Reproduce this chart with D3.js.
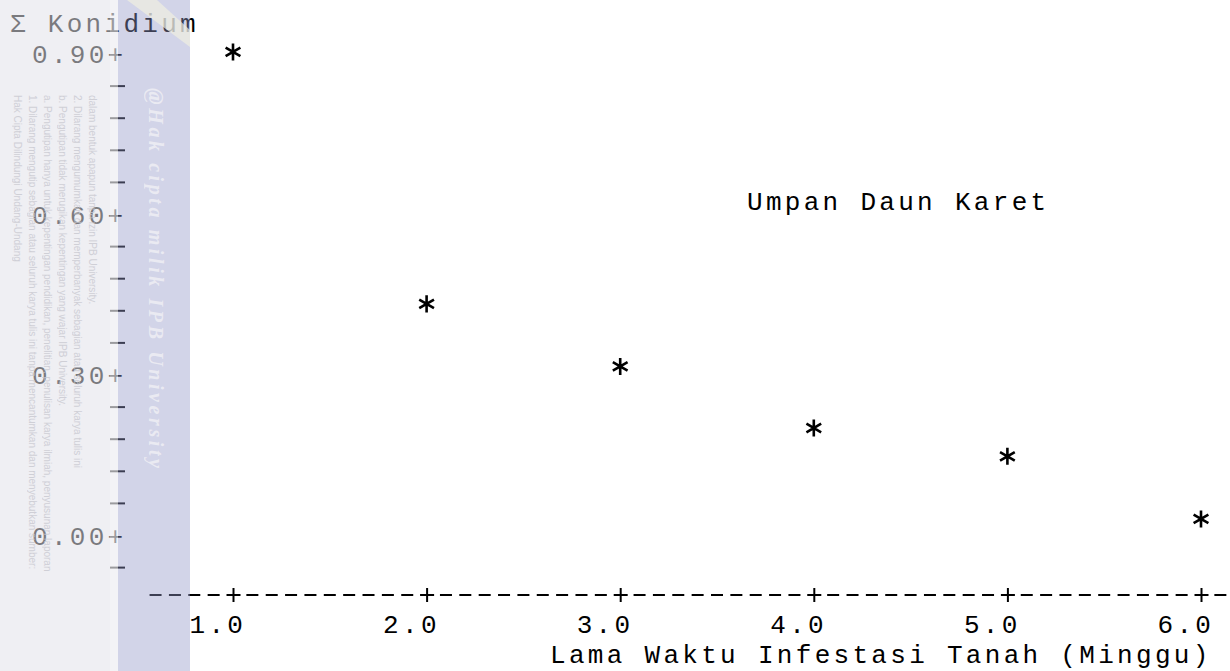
<!DOCTYPE html>
<html>
<head>
<meta charset="utf-8">
<script src="https://cdn.jsdelivr.net/npm/d3@7"></script>
<style>
  html, body { margin: 0; padding: 0; background: #fff; }
  svg { display: block; }
</style>
</head>
<body>
<div id="chart"></div>
<script>
// ---- data ----
const weeks = [1, 2, 3, 4, 5, 6];
const konidium = [0.903, 0.432, 0.315, 0.200, 0.147, 0.030];
const yMajorTicks = [0.00, 0.30, 0.60, 0.90];
const yMinorTicks = [-0.06, 0.06, 0.12, 0.18, 0.24, 0.36, 0.42, 0.48, 0.54, 0.66, 0.72, 0.78, 0.84];
const xTickLabels = ["1.0", "2.0", "3.0", "4.0", "5.0", "6.0"];
const yTitle = "\u03A3 Konidium";
const xTitle = "Lama Waktu Infestasi Tanah (Minggu)";
const seriesLabel = "Umpan Daun Karet";
const watermarkMain = "@Hak cipta milik IPB University";
const watermarkLines = [
  "Hak Cipta Dilindungi Undang-Undang",
  "1. Dilarang mengutip sebagian atau seluruh karya tulis ini tanpa mencantumkan dan menyebutkan sumber:",
  "a. Pengutipan hanya untuk kepentingan pendidikan, penelitian, penulisan karya ilmiah, penyusunan laporan",
  "b. Pengutipan tidak merugikan kepentingan yang wajar IPB University.",
  "2. Dilarang mengumumkan dan memperbanyak sebagian atau seluruh karya tulis ini",
  "dalam bentuk apapun tanpa izin IPB University."
];

// ---- setup ----
const W = 1230, H = 671;
const FONT = "'Liberation Mono', 'DejaVu Sans Mono', monospace";
const FS = 26, LS = 3.3;

const svg = d3.select("#chart").append("svg")
  .attr("width", W).attr("height", H)
  .attr("font-family", FONT);

const x = d3.scaleLinear().domain([1, 6]).range([233, 1201]);
const y = d3.scaleLinear().domain([0, 0.9]).range([535, 53.5]);

// ---- y axis: major labels "0.90+" ----
const yAxisX = 116;
const yMajor = svg.append("g").attr("transform", `translate(${yAxisX},0)`)
  .call(d3.axisLeft(y).tickValues(yMajorTicks).tickSize(0)
    .tickFormat(d => d3.format(".2f")(d) + "+"));
yMajor.select(".domain").remove();
yMajor.selectAll("text")
  .attr("text-anchor", "start")
  .attr("x", 32 - yAxisX)
  .attr("dy", null)
  .attr("y", 9)
  .attr("font-family", FONT)
  .attr("font-size", FS)
  .attr("letter-spacing", LS)
  .attr("fill", "#000");

// minor ticks "-"
const yMinor = svg.append("g").attr("transform", "translate(125,0)")
  .call(d3.axisLeft(y).tickValues(yMinorTicks).tickSize(15).tickFormat(""));
yMinor.select(".domain").remove();
yMinor.selectAll("line").attr("stroke", "#000").attr("stroke-width", 2);

// ---- x axis: dashed typewriter line with "+" ticks ----
const axisY = 595;
const pitch = (x(2) - x(1)) / 10;
svg.append("line")
  .attr("x1", x(1) - 4 * pitch - 6).attr("x2", W)
  .attr("y1", axisY).attr("y2", axisY)
  .attr("stroke", "#000").attr("stroke-width", 2)
  .attr("stroke-dasharray", `12,${(pitch - 12).toFixed(2)}`);

const xAxis = svg.append("g").attr("transform", `translate(0,${axisY})`)
  .call(d3.axisBottom(x).tickValues(weeks).tickSize(0)
    .tickFormat((d, i) => xTickLabels[i]));
xAxis.select(".domain").remove();
xAxis.selectAll(".tick").append("line")
  .attr("x1", 0).attr("x2", 0).attr("y1", -7).attr("y2", 7)
  .attr("stroke", "#000").attr("stroke-width", 2);
xAxis.selectAll(".tick").append("line")
  .attr("x1", -7).attr("x2", 7).attr("y1", 0).attr("y2", 0)
  .attr("stroke", "#000").attr("stroke-width", 2);
xAxis.selectAll("text")
  .attr("text-anchor", "start")
  .attr("x", -44)
  .attr("dy", null)
  .attr("y", 38)
  .attr("font-family", FONT)
  .attr("font-size", FS)
  .attr("letter-spacing", LS)
  .attr("fill", "#000");

// ---- titles ----
function typeText(str, tx, ty) {
  return svg.append("text").attr("x", tx).attr("y", ty)
    .attr("font-size", FS).attr("letter-spacing", LS)
    .attr("fill", "#000").text(str);
}
typeText(yTitle, 10, 32);
typeText(seriesLabel, 747, 210);
typeText(xTitle, 550, 663);

// ---- asterisk points ----
const asterisk = {
  draw(ctx, size) {
    const r = Math.sqrt(size) / 2;
    [90, 30, -30].forEach(a => {
      const t = a * Math.PI / 180;
      ctx.moveTo(-r * Math.cos(t), -r * Math.sin(t));
      ctx.lineTo(r * Math.cos(t), r * Math.sin(t));
    });
  }
};
svg.append("g").selectAll("path")
  .data(weeks.map((w, i) => ({ w, v: konidium[i] })))
  .join("path")
  .attr("transform", d => `translate(${x(d.w)},${y(d.v)})`)
  .attr("d", d3.symbol().type(asterisk).size(290))
  .attr("fill", "none")
  .attr("stroke", "#000")
  .attr("stroke-width", 2.6);

// ---- scanned watermark overlay ----
const wm = svg.append("g");
wm.append("rect").attr("x", 0).attr("y", 0).attr("width", 118).attr("height", H)
  .attr("fill", "rgb(226,226,233)").attr("opacity", 0.54);
wm.append("rect").attr("x", 110).attr("y", 0).attr("width", 8).attr("height", H)
  .attr("fill", "#fff").attr("opacity", 0.25);
wm.append("rect").attr("x", 118).attr("y", 0).attr("width", 72).attr("height", H)
  .attr("fill", "rgb(146,151,200)").attr("opacity", 0.41);
wm.append("polygon")
  .attr("points", "127,0 157,0 190,30 190,47")
  .attr("fill", "rgb(240,240,225)").attr("opacity", 0.7);

watermarkLines.forEach((t, i) => {
  wm.append("text")
    .attr("transform", `translate(${14 + i * 15},95) rotate(90)`)
    .attr("font-family", "'Liberation Sans', sans-serif")
    .attr("font-size", 10)
    .attr("fill", "#c8c8d0")
    .attr("opacity", 0.8)
    .text(t);
});

wm.append("text")
  .attr("transform", "translate(149,88) rotate(90)")
  .attr("font-family", "'Liberation Serif', serif")
  .attr("font-style", "italic")
  .attr("font-weight", "bold")
  .attr("font-size", 20)
  .attr("textLength", 380)
  .attr("fill", "#f2f2f6")
  .attr("opacity", 0.75)
  .text(watermarkMain);
</script>
</body>
</html>
